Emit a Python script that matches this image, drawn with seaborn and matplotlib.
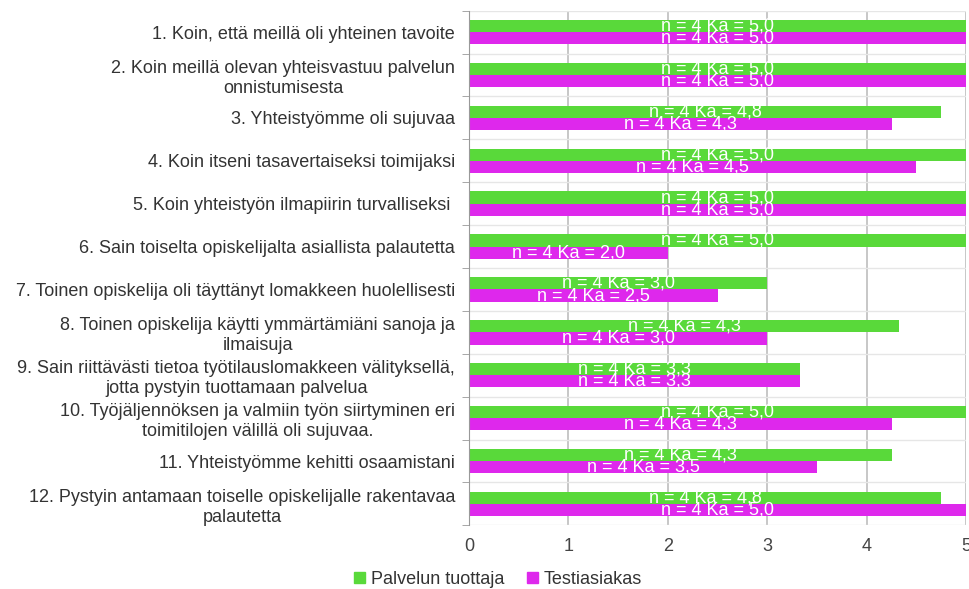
import matplotlib
matplotlib.use("Agg")
import matplotlib.pyplot as plt
import seaborn as sns
import pandas as pd
import numpy as np
from decimal import Decimal, ROUND_HALF_UP

questions = [
    "1. Koin, että meillä oli yhteinen tavoite",
    "2. Koin meillä olevan yhteisvastuu palvelun\nonnistumisesta",
    "3. Yhteistyömme oli sujuvaa",
    "4. Koin itseni tasavertaiseksi toimijaksi",
    "5. Koin yhteistyön ilmapiirin turvalliseksi ",
    "6. Sain toiselta opiskelijalta asiallista palautetta",
    "7. Toinen opiskelija oli täyttänyt lomakkeen huolellisesti",
    "8. Toinen opiskelija käytti ymmärtämiäni sanoja ja\nilmaisuja",
    "9. Sain riittävästi tietoa työtilauslomakkeen välityksellä,\njotta pystyin tuottamaan palvelua",
    "10. Työjäljennöksen ja valmiin työn siirtyminen eri\ntoimitilojen välillä oli sujuvaa.",
    "11. Yhteistyömme kehitti osaamistani",
    "12. Pystyin antamaan toiselle opiskelijalle rakentavaa\npalautetta",
]
groups = ["Palvelun tuottaja", "Testiasiakas"]
tuottaja_mean = [5.0, 5.0, 4.75, 5.0, 5.0, 5.0, 3.0, 4.33, 3.33, 5.0, 4.25, 4.75]
asiakas_mean = [5.0, 5.0, 4.25, 4.5, 5.0, 2.0, 2.5, 3.0, 3.33, 4.25, 3.5, 5.0]
respondents = 4
x_ticks = [0, 1, 2, 3, 4, 5]

colors = {"Palvelun tuottaja": "#59D93A", "Testiasiakas": "#DE28EC"}

df = pd.DataFrame({
    "kysymys": questions * 2,
    "ryhma": [groups[0]] * len(questions) + [groups[1]] * len(questions),
    "ka": tuottaja_mean + asiakas_mean,
})

plt.rcParams["font.family"] = ["Liberation Sans", "DejaVu Sans"]
FS = 13

fig = plt.figure(figsize=(9.69, 5.89), dpi=100)
ax = fig.add_axes([0.484, 0.108, 0.513, 0.874])

sns.barplot(data=df, y="kysymys", x="ka", hue="ryhma", order=questions,
            hue_order=groups, palette=colors, orient="h", width=0.57,
            saturation=1, errorbar=None, ax=ax, legend=True, linewidth=0)


def fmt(v):
    r = Decimal(str(v)).quantize(Decimal("0.1"), rounding=ROUND_HALF_UP)
    return f"n = {respondents} Ka = " + str(r).replace(".", ",")


for cont, vals in zip(ax.containers, [tuottaja_mean, asiakas_mean]):
    ax.bar_label(cont, labels=[fmt(v) for v in vals], label_type="center",
                 color="white", fontsize=FS)

ax.set_xlim(0, 5)
ax.set_ylim(len(questions) - 0.5, -0.5)
ax.set_xticks(x_ticks)
ax.set_xticklabels([str(t) for t in x_ticks])
ax.set_xlabel("")
ax.set_ylabel("")

# category boundaries as minor ticks / light horizontal grid
ax.set_yticks(np.arange(-0.5, len(questions) + 0.5, 1), minor=True)
ax.tick_params(axis="y", which="major", length=0, pad=10, labelsize=FS,
               labelcolor="#333333")
ax.tick_params(axis="y", which="minor", length=5, color="#999999")
ax.tick_params(axis="x", which="major", length=0, pad=9, labelsize=FS,
               labelcolor="#444444")
for lab in ax.get_yticklabels():
    lab.set_multialignment("center")

ax.grid(False)
ax.xaxis.grid(True, which="major", color="#bdbdbd", linewidth=1.2)
ax.yaxis.grid(True, which="minor", color="#e6e6e6", linewidth=1.0)
ax.set_axisbelow(True)
for s in ["top", "right", "bottom"]:
    ax.spines[s].set_visible(False)
ax.spines["left"].set_color("#999999")

ax.get_legend().remove()
handles = [plt.Rectangle((0, 0), 1, 1, color=colors[g]) for g in groups]
fig.legend(handles, groups, loc="lower center", bbox_to_anchor=(0.514, -0.026),
           ncol=2, frameon=False, fontsize=FS, handlelength=0.6,
           handleheight=0.6, handletextpad=0.3, columnspacing=1.3,
           labelcolor="#333333")

fig.savefig("out.png", dpi=100, facecolor="white")
